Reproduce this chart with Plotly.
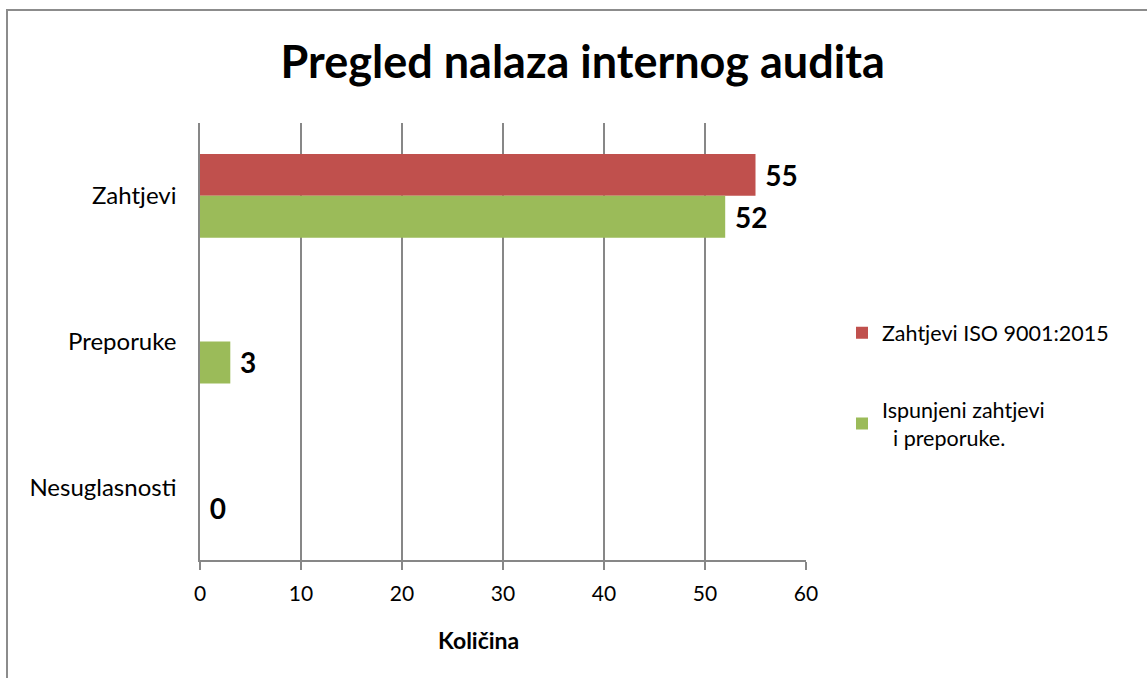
import plotly.graph_objects as go

# categories top to bottom
categories = ["Zahtjevi", "Preporuke", "Nesuglasnosti"]
iso_requirements = [55, None, None]
fulfilled = [52, 3, 0]

series_names = ["Zahtjevi ISO 9001:2015", "Ispunjeni zahtjevi<br>\u00a0\u00a0i preporuke."]
x_ticks = [0, 10, 20, 30, 40, 50, 60]

FONT = "Lato, Calibri, sans-serif"
GRID = "#878787"

fig = go.Figure()

fig.add_trace(go.Bar(
    y=categories, x=iso_requirements, orientation="h",
    name=series_names[0], legendgroup="a",
    marker=dict(color="#C0504D", line=dict(width=0)),
    text=[str(v) if v is not None else "" for v in iso_requirements],
    texttemplate="\u00a0%{text}", textposition="outside",
    textfont=dict(family=FONT, size=28, color="black", weight="bold"),
    cliponaxis=False,
))
fig.add_trace(go.Bar(
    y=categories, x=fulfilled, orientation="h",
    name=series_names[1], legendgroup="b",
    marker=dict(color="#9BBB59", line=dict(width=0)),
    text=[str(v) for v in fulfilled],
    texttemplate="\u00a0%{text}", textposition="outside",
    textfont=dict(family=FONT, size=28, color="black", weight="bold"),
    cliponaxis=False,
))

fig.update_layout(
    width=1147, height=678,
    margin=dict(l=200, r=341, t=123, b=118),
    paper_bgcolor="white", plot_bgcolor="white",
    barmode="group", bargap=0.425, bargroupgap=0,
    font=dict(family=FONT, size=21, color="black"),
    title=dict(
        text="<b>Pregled nalaza internog audita</b>",
        x=0.508, xanchor="center", y=0.908, yanchor="middle",
        font=dict(family=FONT, size=45, color="black"),
    ),
    legend=dict(
        x=(842 - 200) / 606, xanchor="left", y=0.40, yanchor="middle",
        traceorder="grouped", tracegroupgap=46,
        font=dict(family=FONT, size=21.5, color="black"),
        itemwidth=30,
    ),
    showlegend=True,
)

fig.update_xaxes(
    range=[0, 60], tickvals=x_ticks,
    showgrid=True, gridcolor=GRID, gridwidth=1.5,
    showline=True, linecolor=GRID, linewidth=1.5,
    ticks="outside", ticklen=8, tickcolor=GRID, tickwidth=1.5,
    ticklabelstandoff=6,
    tickfont=dict(family=FONT, size=21, color="black"),
    zeroline=False,
)
fig.update_yaxes(
    autorange="reversed",
    showgrid=False, showline=True, linecolor=GRID, linewidth=1.5,
    ticks="", ticklabelstandoff=17,
    tickfont=dict(family=FONT, size=24, color="black"),
)

# axis title
fig.add_annotation(
    text="<b>Količina</b>", xref="paper", yref="paper",
    x=(478 - 200) / 606, y=(560 - 640) / 437, showarrow=False,
    font=dict(family=FONT, size=23, color="black"),
    xanchor="center", yanchor="middle",
)

# chart border (cropped at right and bottom)
fig.add_shape(
    type="rect", xref="paper", yref="paper",
    x0=(7 - 200) / 606, x1=(1160 - 200) / 606,
    y0=(560 - 700) / 437, y1=(560 - 10) / 437,
    line=dict(color="#8C8C8C", width=2), fillcolor="rgba(0,0,0,0)",
    layer="below",
)

fig.write_html(
    "out.html",
    config={"displayModeBar": False},
    post_script="document.body.style.margin='0';",
)
